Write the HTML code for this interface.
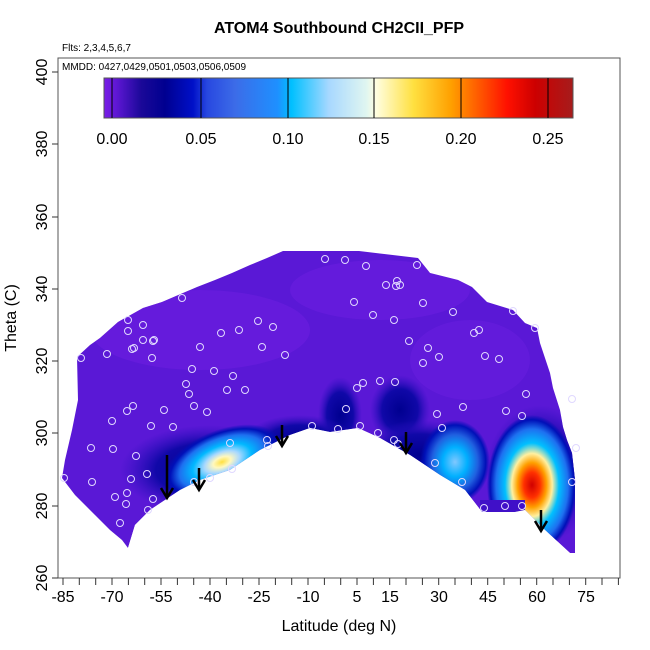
<!DOCTYPE html>
<html><head><meta charset="utf-8"><style>
body{margin:0;background:#fff;}
svg{display:block;font-family:"Liberation Sans",sans-serif;}
</style></head><body>
<svg width="650" height="650" viewBox="0 0 650 650" xmlns="http://www.w3.org/2000/svg">
<defs>
<linearGradient id="cb" x1="0" x2="1" y1="0" y2="0">
<stop offset="0" stop-color="#7a1ee8"/>
<stop offset="0.03" stop-color="#5a16d0"/>
<stop offset="0.08" stop-color="#1a0898"/>
<stop offset="0.13" stop-color="#000090"/>
<stop offset="0.19" stop-color="#0010c8"/>
<stop offset="0.22" stop-color="#2848e0"/>
<stop offset="0.28" stop-color="#3c6ce8"/>
<stop offset="0.37" stop-color="#1e90ff"/>
<stop offset="0.40" stop-color="#00c0ff"/>
<stop offset="0.48" stop-color="#a8d8ff"/>
<stop offset="0.56" stop-color="#e0f6f0"/>
<stop offset="0.58" stop-color="#fffee0"/>
<stop offset="0.66" stop-color="#ffe040"/>
<stop offset="0.74" stop-color="#ffa000"/>
<stop offset="0.78" stop-color="#ff7000"/>
<stop offset="0.86" stop-color="#ff1000"/>
<stop offset="0.92" stop-color="#cc0000"/>
<stop offset="1" stop-color="#a61c1c"/>
</linearGradient>
<radialGradient id="lb" cx="0.5" cy="0.5" r="0.5">
<stop offset="0" stop-color="#ffe040"/>
<stop offset="0.15" stop-color="#fff8c0"/>
<stop offset="0.3" stop-color="#a8d8ff"/>
<stop offset="0.5" stop-color="#00b8ff"/>
<stop offset="0.72" stop-color="#1e70f0"/>
<stop offset="0.88" stop-color="#0010b8"/>
<stop offset="1" stop-color="#0010b8" stop-opacity="0"/>
</radialGradient>
<radialGradient id="rb" cx="0.5" cy="0.5" r="0.5">
<stop offset="0" stop-color="#d00000"/>
<stop offset="0.18" stop-color="#ff3000"/>
<stop offset="0.32" stop-color="#ffa000"/>
<stop offset="0.45" stop-color="#fff0a0"/>
<stop offset="0.6" stop-color="#00c0ff"/>
<stop offset="0.8" stop-color="#1e70f0"/>
<stop offset="0.93" stop-color="#0010b8"/>
<stop offset="1" stop-color="#0010b8" stop-opacity="0"/>
</radialGradient>
<radialGradient id="mb" cx="0.5" cy="0.5" r="0.5">
<stop offset="0" stop-color="#80c8ff"/>
<stop offset="0.35" stop-color="#00b0ff"/>
<stop offset="0.65" stop-color="#2060e0"/>
<stop offset="0.88" stop-color="#0010b8"/>
<stop offset="1" stop-color="#0010b8" stop-opacity="0"/>
</radialGradient>
<radialGradient id="db" cx="0.5" cy="0.5" r="0.5">
<stop offset="0" stop-color="#000090"/>
<stop offset="0.6" stop-color="#1008a8"/>
<stop offset="1" stop-color="#3010c0" stop-opacity="0"/>
</radialGradient>
<clipPath id="reg"><polygon points="77,357 90,345 100,338 118,322 143,308 162,302 197,287 215,280 232,273 250,265 267,258 283,251 359,251 418,258 430,273 458,280 472,287 487,302 513,310 525,323 537,328 540,343 545,358 550,373 553,388 560,410 563,427 567,440 572,453 575,480 575,555 570,553 545,530 525,510 515,512 482,512 465,490 440,475 410,455 380,438 358,428 330,432 310,428 290,435 260,450 230,470 200,480 180,490 165,500 150,510 135,525 128,548 122,540 110,530 95,515 75,495 62,478 65,460 72,430 78,400"/></clipPath>
</defs>

<text x="339" y="33" font-size="16" font-weight="bold" text-anchor="middle">ATOM4 Southbound CH2CII_PFP</text>
<text x="62" y="51" font-size="10">Flts: 2,3,4,5,6,7</text>

<g clip-path="url(#reg)">
<rect x="50" y="240" width="540" height="330" fill="#5a18d6"/>
<ellipse cx="200" cy="330" rx="110" ry="40" fill="#6c1ee0" opacity="0.6"/>
<ellipse cx="380" cy="290" rx="90" ry="30" fill="#6a1ee0" opacity="0.6"/>
<ellipse cx="470" cy="360" rx="60" ry="40" fill="#6a1ee0" opacity="0.5"/>
<ellipse cx="340" cy="415" rx="22" ry="38" fill="url(#db)"/>
<ellipse cx="400" cy="410" rx="30" ry="35" fill="url(#db)"/>
<ellipse cx="300" cy="440" rx="55" ry="25" fill="url(#db)"/>
<ellipse cx="420" cy="455" rx="60" ry="35" fill="url(#db)"/>
<ellipse cx="210" cy="470" rx="90" ry="45" fill="url(#db)"/>
<ellipse cx="222" cy="462" rx="62" ry="32" transform="rotate(-22 222 462)" fill="url(#lb)"/>
<ellipse cx="455" cy="462" rx="35" ry="42" fill="url(#mb)"/>
<ellipse cx="540" cy="475" rx="55" ry="70" fill="url(#db)"/>
<ellipse cx="532" cy="485" rx="45" ry="70" fill="url(#rb)"/>
<rect x="480" y="500" width="45" height="15" fill="#4010c8"/>
</g>
<polygon points="128,548 135,525 150,510 165,500 180,490 200,480 230,470 260,450 290,435 310,428 330,432 358,428 380,438 410,455 440,475 465,490 482,512 515,512 525,510 545,530 570,553 578,553 578,570 120,570" fill="#fff"/>

<g fill="none" stroke="#e0d8ff" stroke-width="1">
<circle cx="325" cy="259" r="3.5"/><circle cx="345" cy="260" r="3.5"/><circle cx="366" cy="266" r="3.5"/>
<circle cx="182" cy="298" r="3.5"/><circle cx="128" cy="320" r="3.5"/><circle cx="128" cy="331" r="3.5"/>
<circle cx="143" cy="325" r="3.5"/><circle cx="154" cy="340" r="3.5"/><circle cx="143" cy="340" r="3.5"/>
<circle cx="134" cy="348" r="3.5"/><circle cx="132" cy="349" r="3.5"/><circle cx="153" cy="341" r="3.5"/>
<circle cx="81" cy="358" r="3.5"/><circle cx="107" cy="354" r="3.5"/><circle cx="152" cy="358" r="3.5"/>
<circle cx="200" cy="347" r="3.5"/><circle cx="221" cy="333" r="3.5"/><circle cx="239" cy="330" r="3.5"/>
<circle cx="258" cy="321" r="3.5"/><circle cx="273" cy="327" r="3.5"/><circle cx="262" cy="347" r="3.5"/>
<circle cx="285" cy="355" r="3.5"/><circle cx="192" cy="369" r="3.5"/><circle cx="214" cy="371" r="3.5"/>
<circle cx="233" cy="376" r="3.5"/><circle cx="186" cy="384" r="3.5"/><circle cx="189" cy="394" r="3.5"/>
<circle cx="227" cy="390" r="3.5"/><circle cx="245" cy="390" r="3.5"/><circle cx="194" cy="406" r="3.5"/>
<circle cx="207" cy="412" r="3.5"/><circle cx="164" cy="410" r="3.5"/><circle cx="133" cy="406" r="3.5"/>
<circle cx="127" cy="411" r="3.5"/><circle cx="151" cy="426" r="3.5"/><circle cx="173" cy="427" r="3.5"/>
<circle cx="112" cy="421" r="3.5"/><circle cx="113" cy="449" r="3.5"/><circle cx="91" cy="448" r="3.5"/>
<circle cx="136" cy="456" r="3.5"/><circle cx="147" cy="474" r="3.5"/><circle cx="131" cy="479" r="3.5"/>
<circle cx="64" cy="478" r="3.5"/><circle cx="92" cy="482" r="3.5"/><circle cx="127" cy="493" r="3.5"/>
<circle cx="126" cy="504" r="3.5"/><circle cx="120" cy="523" r="3.5"/><circle cx="115" cy="497" r="3.5"/>
<circle cx="153" cy="499" r="3.5"/><circle cx="148" cy="510" r="3.5"/>
<circle cx="194" cy="482" r="3.5"/><circle cx="210" cy="478" r="3.5"/><circle cx="230" cy="443" r="3.5"/>
<circle cx="232" cy="469" r="3.5"/><circle cx="267" cy="440" r="3.5"/><circle cx="268" cy="446" r="3.5"/>
<circle cx="312" cy="426" r="3.5"/><circle cx="338" cy="429" r="3.5"/><circle cx="360" cy="426" r="3.5"/>
<circle cx="378" cy="433" r="3.5"/><circle cx="394" cy="440" r="3.5"/><circle cx="398" cy="444" r="3.5"/>
<circle cx="395" cy="382" r="3.5"/><circle cx="380" cy="381" r="3.5"/><circle cx="363" cy="383" r="3.5"/>
<circle cx="357" cy="388" r="3.5"/><circle cx="346" cy="409" r="3.5"/><circle cx="437" cy="414" r="3.5"/>
<circle cx="463" cy="407" r="3.5"/><circle cx="423" cy="363" r="3.5"/><circle cx="439" cy="357" r="3.5"/>
<circle cx="409" cy="341" r="3.5"/><circle cx="428" cy="348" r="3.5"/><circle cx="373" cy="315" r="3.5"/>
<circle cx="394" cy="320" r="3.5"/><circle cx="354" cy="302" r="3.5"/><circle cx="400" cy="285" r="3.5"/>
<circle cx="423" cy="303" r="3.5"/><circle cx="386" cy="285" r="3.5"/><circle cx="397" cy="281" r="3.5"/>
<circle cx="396" cy="286" r="3.5"/><circle cx="417" cy="265" r="3.5"/>
<circle cx="453" cy="312" r="3.5"/><circle cx="474" cy="333" r="3.5"/><circle cx="485" cy="356" r="3.5"/>
<circle cx="479" cy="330" r="3.5"/><circle cx="513" cy="311" r="3.5"/><circle cx="535" cy="328" r="3.5"/>
<circle cx="499" cy="359" r="3.5"/><circle cx="526" cy="394" r="3.5"/><circle cx="506" cy="411" r="3.5"/>
<circle cx="522" cy="416" r="3.5"/><circle cx="442" cy="428" r="3.5"/>
<circle cx="435" cy="463" r="3.5"/><circle cx="462" cy="482" r="3.5"/><circle cx="484" cy="508" r="3.5"/>
<circle cx="505" cy="506" r="3.5"/><circle cx="522" cy="506" r="3.5"/><circle cx="572" cy="399" r="3.5"/>
<circle cx="572" cy="482" r="3.5"/><circle cx="576" cy="448" r="3.5"/>
</g>

<g stroke="#000" stroke-width="2.5" fill="none">
<line x1="167" y1="455" x2="167" y2="498"/><polyline points="161,488 167,498 173,488"/>
<line x1="199" y1="468" x2="199" y2="490"/><polyline points="193,480 199,490 205,480"/>
<line x1="282" y1="425" x2="282" y2="446"/><polyline points="276,436 282,446 288,436"/>
<line x1="406" y1="432" x2="406" y2="453"/><polyline points="400,443 406,453 412,443"/>
<line x1="541" y1="510" x2="541" y2="531"/><polyline points="535,521 541,531 547,521"/>
</g>

<rect x="58" y="58" width="562" height="520" fill="none" stroke="#555" stroke-width="1"/>
<text x="62" y="70" font-size="10">MMDD: 0427,0429,0501,0503,0506,0509</text>

<rect x="104" y="78" width="469" height="40" fill="url(#cb)" stroke="#555" stroke-width="1"/>
<g stroke="#000" stroke-width="1">
<line x1="112" y1="78" x2="112" y2="118"/><line x1="201" y1="78" x2="201" y2="118"/>
<line x1="288" y1="78" x2="288" y2="118"/><line x1="374" y1="78" x2="374" y2="118"/>
<line x1="461" y1="78" x2="461" y2="118"/><line x1="548" y1="78" x2="548" y2="118"/>
</g>
<g font-size="16" text-anchor="middle">
<text x="112" y="144">0.00</text><text x="201" y="144">0.05</text><text x="288" y="144">0.10</text>
<text x="374" y="144">0.15</text><text x="461" y="144">0.20</text><text x="548" y="144">0.25</text>
</g>

<g stroke="#333" stroke-width="1">
<line x1="52" y1="578" x2="58" y2="578"/><line x1="52" y1="506" x2="58" y2="506"/>
<line x1="52" y1="433" x2="58" y2="433"/><line x1="52" y1="361" x2="58" y2="361"/>
<line x1="52" y1="289" x2="58" y2="289"/><line x1="52" y1="217" x2="58" y2="217"/>
<line x1="52" y1="144" x2="58" y2="144"/><line x1="52" y1="72" x2="58" y2="72"/>
</g>
<g font-size="16" text-anchor="middle">
<text transform="translate(47,578) rotate(-90)">260</text>
<text transform="translate(47,506) rotate(-90)">280</text>
<text transform="translate(47,433) rotate(-90)">300</text>
<text transform="translate(47,361) rotate(-90)">320</text>
<text transform="translate(47,289) rotate(-90)">340</text>
<text transform="translate(47,217) rotate(-90)">360</text>
<text transform="translate(47,144) rotate(-90)">380</text>
<text transform="translate(47,72) rotate(-90)">400</text>
<text transform="translate(16,318) rotate(-90)">Theta (C)</text>
</g>

<g stroke="#333" stroke-width="1">
<line x1="63" y1="578" x2="63" y2="585"/><line x1="79.3" y1="578" x2="79.3" y2="585"/><line x1="95.7" y1="578" x2="95.7" y2="585"/><line x1="112" y1="578" x2="112" y2="585"/><line x1="128.4" y1="578" x2="128.4" y2="585"/><line x1="144.7" y1="578" x2="144.7" y2="585"/><line x1="161" y1="578" x2="161" y2="585"/><line x1="177.4" y1="578" x2="177.4" y2="585"/><line x1="193.7" y1="578" x2="193.7" y2="585"/><line x1="210" y1="578" x2="210" y2="585"/><line x1="226.4" y1="578" x2="226.4" y2="585"/><line x1="242.7" y1="578" x2="242.7" y2="585"/><line x1="259" y1="578" x2="259" y2="585"/><line x1="275.4" y1="578" x2="275.4" y2="585"/><line x1="291.7" y1="578" x2="291.7" y2="585"/><line x1="308" y1="578" x2="308" y2="585"/><line x1="324.4" y1="578" x2="324.4" y2="585"/><line x1="340.7" y1="578" x2="340.7" y2="585"/><line x1="357" y1="578" x2="357" y2="585"/><line x1="373.4" y1="578" x2="373.4" y2="585"/><line x1="389.7" y1="578" x2="389.7" y2="585"/><line x1="406" y1="578" x2="406" y2="585"/><line x1="422.4" y1="578" x2="422.4" y2="585"/><line x1="438.7" y1="578" x2="438.7" y2="585"/><line x1="455" y1="578" x2="455" y2="585"/><line x1="471.4" y1="578" x2="471.4" y2="585"/><line x1="487.7" y1="578" x2="487.7" y2="585"/><line x1="504" y1="578" x2="504" y2="585"/><line x1="520.4" y1="578" x2="520.4" y2="585"/><line x1="536.7" y1="578" x2="536.7" y2="585"/><line x1="553" y1="578" x2="553" y2="585"/><line x1="569.4" y1="578" x2="569.4" y2="585"/><line x1="585.7" y1="578" x2="585.7" y2="585"/><line x1="602" y1="578" x2="602" y2="585"/><line x1="618.4" y1="578" x2="618.4" y2="585"/>
</g>
<g font-size="16" text-anchor="middle">
<text x="63" y="602">-85</text><text x="112" y="602">-70</text><text x="161" y="602">-55</text>
<text x="210" y="602">-40</text><text x="259" y="602">-25</text><text x="308" y="602">-10</text>
<text x="357" y="602">5</text><text x="390" y="602">15</text><text x="439" y="602">30</text>
<text x="488" y="602">45</text><text x="537" y="602">60</text><text x="586" y="602">75</text>
<text x="339" y="631">Latitude (deg N)</text>
</g>
</svg>
</body></html>
